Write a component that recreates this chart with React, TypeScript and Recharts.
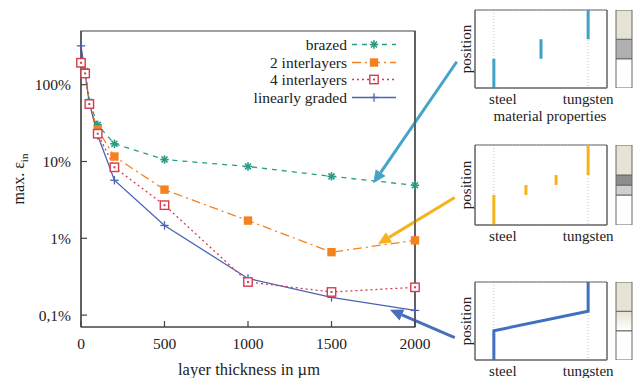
import React from 'react';
import {
  LineChart, Line, XAxis, YAxis, ReferenceLine, ReferenceArea, Legend,
  CartesianGrid, BarChart, Bar,
} from 'recharts';

const SERIF = "'Liberation Serif', Tinos, 'Times New Roman', Times, serif";

// main chart: max. inelastic strain (%) vs. layer thickness (µm)
const thickness = [0, 25, 50, 100, 200, 500, 1000, 1500, 2000];
const brazed = [190, 150, 60, 30, 17, 10.6, 8.6, 6.4, 4.9];
const twoInterlayers = [193, 143, 57, 26, 11.6, 4.3, 1.7, 0.66, 0.94];
const fourInterlayers = [193, 140, 56, 23, 8.4, 2.7, 0.27, 0.2, 0.23];
const linearlyGraded = [320, 140, 58, 22, 5.7, 1.47, 0.3, 0.17, 0.115];

const xTicks = [0, 500, 1000, 1500, 2000];
const yTicks = [0.1, 1, 10, 100];

// arrows from the insets to the curves: [thickness, strain %]
const arrowTails = [[2250, 199], [2238, 3.4], [2238, 0.051]];
const arrowHeads = [[1750, 5.2], [1778, 0.84], [1850, 0.117]];
const arrowColors = ['#45a4c8', '#f5b320', '#4a6fb8'];

// insets: material property (0 steel .. 1 tungsten) over position
const brazedSteps = [[0, -0.5, 1], [0.5, 1, 2], [1, 2, 3.5]];
const twoLayerSteps = [[0, -0.5, 1], [0.34, 1, 1.5], [0.66, 1.5, 2], [1, 2, 3.5]];
const gradedPath = [[0, -0.5], [0, 1], [1, 2], [1, 3.5]];
const brazedBar = [1.5, 1, 1.5];
const twoLayerBar = [1.5, 0.5, 0.5, 1.5];
const gradedBar = [1.5, 1, 1.5];

const rows = thickness.map((t, i) => ({
  t,
  brazed: brazed[i],
  two: twoInterlayers[i],
  four: fourInterlayers[i],
  linear: linearlyGraded[i],
}));

const series = [
  { key: 'brazed', name: 'brazed', color: '#2a9a84', dash: '5 5', mark: 'star' },
  { key: 'two', name: '2 interlayers', color: '#f58220', dash: '9 4 2 4', mark: 'fill' },
  { key: 'four', name: '4 interlayers', color: '#d83a50', dash: '2 3', mark: 'open' },
  { key: 'linear', name: 'linearly graded', color: '#4a63b3', dash: undefined, mark: 'plus' },
];
const drawOrder = ['linear', 'brazed', 'two', 'four'];

function Marker({ cx, cy, color, mark }: any) {
  if (cx == null || cy == null) return null;
  const s = 4.2;
  if (mark === 'fill') {
    return <rect x={cx - s} y={cy - s} width={2 * s} height={2 * s} fill={color} />;
  }
  if (mark === 'open') {
    return (
      <g>
        <rect x={cx - s} y={cy - s} width={2 * s} height={2 * s} fill="#fff" stroke={color} strokeWidth={1.4} />
        <rect x={cx - 1} y={cy - 1} width={2} height={2} fill={color} />
      </g>
    );
  }
  if (mark === 'star') {
    return (
      <g stroke={color} strokeWidth={1.6}>
        <line x1={cx - s} y1={cy} x2={cx + s} y2={cy} />
        <line x1={cx} y1={cy - s} x2={cx} y2={cy + s} />
        <line x1={cx - 3} y1={cy - 3} x2={cx + 3} y2={cy + 3} />
        <line x1={cx - 3} y1={cy + 3} x2={cx + 3} y2={cy - 3} />
      </g>
    );
  }
  return (
    <g stroke={color} strokeWidth={1.3}>
      <line x1={cx - s} y1={cy} x2={cx + s} y2={cy} />
      <line x1={cx} y1={cy - s} x2={cx} y2={cy + s} />
    </g>
  );
}

const fmtPct = (v: number) => (v < 1 ? String(v).replace('.', ',') : String(v)) + '%';

const renderLegend = () => (
  <div style={{ fontFamily: SERIF, fontSize: 15.5, color: '#222' }}>
    {series.map((s) => (
      <div key={s.key} style={{ display: 'flex', justifyContent: 'flex-end', alignItems: 'center', height: 17.5 }}>
        <span style={{ marginRight: 5, lineHeight: '17.5px' }}>{s.name}</span>
        <svg width={44} height={17} style={{ display: 'block' }}>
          <line x1={0} y1={8.5} x2={44} y2={8.5} stroke={s.color} strokeWidth={1.4} strokeDasharray={s.dash} />
          <Marker cx={22} cy={8.5} color={s.color} mark={s.mark} />
        </svg>
      </div>
    ))}
  </div>
);

const arrowShape = (color: string) => (p: any) => {
  const { x1, y1, x2, y2 } = p;
  const a = Math.atan2(y2 - y1, x2 - x1);
  const L = 13;
  const W = 6;
  const bx = x2 - L * Math.cos(a);
  const by = y2 - L * Math.sin(a);
  const pts = `${x2},${y2} ${bx - W * Math.sin(a)},${by + W * Math.cos(a)} ${bx + W * Math.sin(a)},${by - W * Math.cos(a)}`;
  return (
    <g>
      <line x1={x1} y1={y1} x2={bx} y2={by} stroke={color} strokeWidth={3} />
      <polygon points={pts} fill={color} />
    </g>
  );
};

function MainChart() {
  const tick = { fill: '#222', fontSize: 15.5, fontFamily: SERIF };
  return (
    <LineChart width={634} height={378} data={rows} margin={{ top: 31, right: 218, bottom: 21, left: 21 }}>
      <XAxis
        dataKey="t" type="number" domain={[0, 2000]} ticks={xTicks} interval={0}
        tickSize={-6} tickMargin={17} height={30} stroke="#444" strokeWidth={1.2} tick={tick}
        label={{
          content: () => (
            <text x={249} y={375} textAnchor="middle" fontFamily={SERIF} fontSize={16.5} fill="#222">
              layer thickness in µm
            </text>
          ),
        }}
      />
      <YAxis
        type="number" scale="log" domain={[0.07, 500]} ticks={yTicks} interval={0}
        tickFormatter={fmtPct} tickSize={-6} tickMargin={16} width={60} stroke="#444" strokeWidth={1.2} tick={tick}
        label={{
          content: () => (
            <text x={0} y={0} transform="translate(24,179) rotate(-90)" textAnchor="middle"
              fontFamily={SERIF} fontSize={16} fill="#222">
              max. ε<tspan dy={4} fontSize={11}>in</tspan>
            </text>
          ),
        }}
      />
      <YAxis
        yAxisId="r" orientation="right" type="number" scale="log" domain={[0.07, 500]}
        ticks={yTicks} interval={0} tick={false} tickSize={-6} width={1} stroke="#444" strokeWidth={1.2}
      />
      <ReferenceArea x1={0} x2={2000} y1={0.07} y2={500} fill="none" stroke="#444" strokeWidth={1.2} ifOverflow="visible" />
      {drawOrder.map((k) => {
        const s = series.find((x) => x.key === k)!;
        return (
          <Line
            key={k} dataKey={k} name={s.name} stroke={s.color} strokeWidth={1.3}
            strokeDasharray={s.dash} activeDot={false} isAnimationActive={false}
            dot={(p: any) => <Marker key={`${k}-${p.index}`} cx={p.cx} cy={p.cy} color={s.color} mark={s.mark} />}
          />
        );
      })}
      {arrowTails.map((tail, i) => (
        <ReferenceLine
          key={`arrow-${i}`} ifOverflow="visible"
          segment={[{ x: tail[0], y: tail[1] }, { x: arrowHeads[i][0], y: arrowHeads[i][1] }]}
          stroke={arrowColors[i]} shape={arrowShape(arrowColors[i])}
        />
      ))}
      <Legend
        content={renderLegend} layout="horizontal" verticalAlign="middle" align="center"
        wrapperStyle={{ left: 100, top: 36, width: 296 }}
      />
    </LineChart>
  );
}

function SideBar({ top, height, layers, fills, gradient }: any) {
  const row: any = { name: 'bar' };
  layers.forEach((v: number, i: number) => { row['l' + i] = v; });
  return (
    <div style={{ position: 'absolute', left: 615, top: top - 1 }}>
      <BarChart width={18} height={height + 2} data={[row]} margin={{ top: 1, right: 1, bottom: 1, left: 1 }} barCategoryGap={0}>
        {gradient && (
          <defs>
            <linearGradient id="gradedFade" x1="0" y1="0" x2="0" y2="1">
              <stop offset="0%" stopColor="#e6e3d4" />
              <stop offset="100%" stopColor="#ffffff" />
            </linearGradient>
          </defs>
        )}
        <XAxis dataKey="name" hide />
        <YAxis type="number" domain={[0, 4]} hide allowDataOverflow />
        {layers.map((_: number, i: number) => (
          <Bar key={i} dataKey={'l' + i} stackId="a" fill={fills[i]} stroke="#666" strokeWidth={1} isAnimationActive={false} />
        ))}
      </BarChart>
    </div>
  );
}

function Inset({ top, frameH, xHeight, color, steps, path, xLabel }: any) {
  const tick = (p: any) => (
    <text x={p.x + (p.payload.value === 0 ? 9 : 0)} y={p.y} dy="0.71em" textAnchor="middle"
      fontFamily={SERIF} fontSize={15} fill="#222">
      {p.payload.value === 0 ? 'steel' : 'tungsten'}
    </text>
  );
  const midY = 10 + frameH / 2;
  return (
    <div style={{ position: 'absolute', left: 440, top }}>
      <LineChart width={192} height={10 + frameH + xHeight} margin={{ top: 10, right: 24, left: 0, bottom: 0 }}>
        <CartesianGrid stroke="#c4c4c4" strokeDasharray="1 2" />
        <XAxis
          type="number" dataKey="m" domain={[-0.2, 1.2]} ticks={[0, 1]} interval={0} allowDataOverflow
          tickLine={false} tickSize={0} tickMargin={5} height={xHeight} stroke="#666" tick={tick}
          label={xLabel ? {
            content: () => (
              <text x={110} y={10 + frameH + 33} textAnchor="middle" fontFamily={SERIF} fontSize={15} fill="#222">
                material properties
              </text>
            ),
          } : undefined}
        />
        <YAxis
          type="number" domain={[-0.5, 3.5]} ticks={[0, 1, 2, 3]} interval={0} allowDataOverflow
          tick={false} tickSize={-3} width={35} stroke="#666"
          label={{
            content: () => (
              <text x={0} y={0} transform={`translate(31,${midY}) rotate(-90)`} textAnchor="middle"
                fontFamily={SERIF} fontSize={15} fill="#222">
                position
              </text>
            ),
          }}
        />
        <YAxis
          yAxisId="r" orientation="right" type="number" domain={[-0.5, 3.5]} ticks={[0, 1, 2, 3]}
          interval={0} tick={false} tickSize={-3} width={1} stroke="#666"
        />
        <ReferenceArea x1={-0.2} x2={1.2} y1={-0.5} y2={3.5} fill="none" stroke="#666" ifOverflow="visible" />
        {steps && steps.map((s: number[], i: number) => (
          <Line
            key={i} data={[{ m: s[0], p: s[1] }, { m: s[0], p: s[2] }]} dataKey="p"
            stroke={color} strokeWidth={3} dot={false} activeDot={false} isAnimationActive={false}
          />
        ))}
        {path && (
          <Line
            data={path.map((q: number[]) => ({ m: q[0], p: q[1] }))} dataKey="p" type="linear"
            stroke={color} strokeWidth={3} dot={false} activeDot={false} isAnimationActive={false}
          />
        )}
      </LineChart>
    </div>
  );
}

export default function App() {
  return (
    <div style={{ position: 'fixed', left: 0, top: 0, width: 634, height: 378, overflow: 'hidden', background: '#fff' }}>
      <div style={{ position: 'absolute', left: 0, top: 0 }}>
        <MainChart />
      </div>
      <Inset top={0} frameH={78} xHeight={36} color="#3fa3c6" steps={brazedSteps} xLabel />
      <SideBar top={10} height={78} layers={brazedBar} fills={['#ffffff', '#b0b0b0', '#e6e3d4']} />
      <Inset top={135} frameH={80} xHeight={22} color="#f6b41c" steps={twoLayerSteps} />
      <SideBar top={145} height={80} layers={twoLayerBar} fills={['#ffffff', '#cfcfcf', '#8e8e8e', '#e6e3d4']} />
      <Inset top={272} frameH={78} xHeight={18} color="#4270c0" path={gradedPath} />
      <SideBar top={282} height={78} layers={gradedBar} fills={['#ffffff', 'url(#gradedFade)', '#e6e3d4']} gradient />
    </div>
  );
}
